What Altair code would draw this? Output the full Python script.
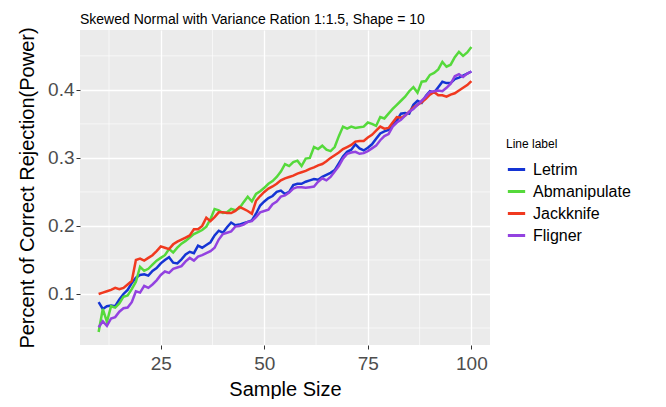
import altair as alt
import pandas as pd

sample_size = list(range(10, 101))

letrim = [0.088, 0.078, 0.082, 0.083, 0.082, 0.092, 0.100, 0.106, 0.116, 0.124,
          0.128, 0.129, 0.127, 0.134, 0.138, 0.145, 0.150, 0.154, 0.146, 0.145,
          0.151, 0.158, 0.162, 0.160, 0.171, 0.168, 0.172, 0.176, 0.186, 0.193,
          0.190, 0.198, 0.205, 0.201, 0.202, 0.204, 0.206, 0.208, 0.218, 0.230,
          0.236, 0.241, 0.244, 0.250, 0.252, 0.247, 0.250, 0.260, 0.262, 0.262,
          0.265, 0.267, 0.269, 0.268, 0.272, 0.275, 0.278, 0.282, 0.292, 0.302,
          0.309, 0.312, 0.320, 0.314, 0.311, 0.315, 0.320, 0.328, 0.336, 0.339,
          0.341, 0.348, 0.355, 0.365, 0.366, 0.365, 0.378, 0.384, 0.381, 0.391,
          0.398, 0.396, 0.404, 0.412, 0.410, 0.410, 0.416, 0.418, 0.421, 0.424,
          0.427]

abmanipulate = [0.044, 0.078, 0.059, 0.082, 0.080, 0.086, 0.096, 0.098, 0.107, 0.118,
                0.140, 0.134, 0.137, 0.143, 0.149, 0.153, 0.157, 0.166, 0.161, 0.168,
                0.174, 0.178, 0.183, 0.188, 0.191, 0.194, 0.199, 0.210, 0.225, 0.223,
                0.219, 0.220, 0.225, 0.223, 0.226, 0.235, 0.243, 0.236, 0.247, 0.251,
                0.256, 0.262, 0.266, 0.272, 0.280, 0.291, 0.288, 0.294, 0.296, 0.288,
                0.299, 0.300, 0.316, 0.313, 0.318, 0.312, 0.310, 0.316, 0.332, 0.346,
                0.343, 0.346, 0.344, 0.345, 0.346, 0.352, 0.350, 0.347, 0.360, 0.358,
                0.365, 0.372, 0.378, 0.384, 0.390, 0.398, 0.404, 0.396, 0.412, 0.413,
                0.422, 0.425, 0.430, 0.441, 0.434, 0.437, 0.448, 0.456, 0.450, 0.455,
                0.463]

jackknife = [0.100, 0.102, 0.104, 0.106, 0.109, 0.107, 0.109, 0.114, 0.119, 0.150,
             0.152, 0.149, 0.153, 0.157, 0.163, 0.170, 0.168, 0.166, 0.173, 0.177,
             0.180, 0.183, 0.186, 0.195, 0.195, 0.200, 0.212, 0.207, 0.213, 0.220,
             0.220, 0.219, 0.219, 0.222, 0.228, 0.225, 0.222, 0.218, 0.237, 0.244,
             0.250, 0.255, 0.258, 0.262, 0.267, 0.270, 0.272, 0.274, 0.277, 0.279,
             0.281, 0.284, 0.286, 0.289, 0.291, 0.295, 0.300, 0.304, 0.308, 0.313,
             0.316, 0.319, 0.324, 0.325, 0.325, 0.330, 0.334, 0.340, 0.346, 0.343,
             0.344, 0.352, 0.360, 0.359, 0.362, 0.368, 0.374, 0.378, 0.382, 0.387,
             0.393, 0.397, 0.392, 0.392, 0.390, 0.393, 0.395, 0.399, 0.403, 0.407,
             0.413]

fligner = [0.051, 0.060, 0.053, 0.064, 0.066, 0.074, 0.079, 0.080, 0.088, 0.104,
           0.102, 0.112, 0.109, 0.114, 0.120, 0.128, 0.133, 0.131, 0.137, 0.139,
           0.141, 0.148, 0.153, 0.149, 0.155, 0.157, 0.160, 0.163, 0.168, 0.180,
           0.188, 0.190, 0.192, 0.199, 0.200, 0.202, 0.206, 0.207, 0.213, 0.220,
           0.222, 0.224, 0.232, 0.236, 0.243, 0.245, 0.249, 0.255, 0.257, 0.257,
           0.256, 0.257, 0.258, 0.265, 0.270, 0.267, 0.272, 0.280, 0.288, 0.299,
           0.306, 0.308, 0.309, 0.306, 0.307, 0.310, 0.314, 0.318, 0.326, 0.332,
           0.335, 0.346, 0.352, 0.356, 0.362, 0.368, 0.372, 0.378, 0.384, 0.390,
           0.397, 0.398, 0.399, 0.398, 0.403, 0.409, 0.420, 0.423, 0.419, 0.424,
           0.427]

series_names = ["Letrim", "Abmanipulate", "Jackknife", "Fligner"]
series_colors = ["#1434D4", "#55D93B", "#F0391F", "#9342E0"]

x_major = [25, 50, 75, 100]
x_minor = [12.5, 37.5, 62.5, 87.5]
y_major = [0.1, 0.2, 0.3, 0.4]
y_minor = [0.05, 0.15, 0.25, 0.35, 0.45]

rows = []
for name, vals in zip(series_names, [letrim, abmanipulate, jackknife, fligner]):
    for n, v in zip(sample_size, vals):
        rows.append({"n": n, "power": v, "label": name})
df = pd.DataFrame(rows)

FONT = "Liberation Sans"
xscale = alt.Scale(domain=[5.5, 104.5], nice=False, zero=False)
yscale = alt.Scale(domain=[0.025, 0.488], nice=False, zero=False)

x_axis = alt.Axis(values=x_major, grid=True, gridColor="white", gridWidth=1.3,
                  labelFontSize=19, labelColor="#4D4D4D", labelFont=FONT,
                  titleFontSize=20, titleFontWeight="normal", titleColor="black",
                  titleFont=FONT, tickColor="#333333", tickSize=4, domain=False,
                  labelPadding=5, titlePadding=6, format="d")
y_axis = alt.Axis(values=y_major, grid=True, gridColor="white", gridWidth=1.3,
                  labelFontSize=19, labelColor="#4D4D4D", labelFont=FONT,
                  titleFontSize=20, titleFontWeight="normal", titleColor="black",
                  titleFont=FONT, tickColor="#333333", tickSize=4, domain=False,
                  labelPadding=2, titlePadding=10, format=".1f")
X_TITLE = "Sample Size"
Y_TITLE = "Percent of Correct Rejection(Power)"

minor_x = alt.Chart(pd.DataFrame({"n": x_minor})).mark_rule(
    color="white", strokeWidth=0.6
).encode(x=alt.X("n:Q", scale=xscale, title=X_TITLE, axis=x_axis))

minor_y = alt.Chart(pd.DataFrame({"power": y_minor})).mark_rule(
    color="white", strokeWidth=0.6
).encode(y=alt.Y("power:Q", scale=yscale, title=Y_TITLE, axis=y_axis))

lines = alt.Chart(df).mark_line(strokeWidth=2.5).encode(
    x=alt.X("n:Q", scale=xscale, title=X_TITLE, axis=x_axis),
    y=alt.Y("power:Q", scale=yscale, title=Y_TITLE, axis=y_axis),
    color=alt.Color("label:N",
                    scale=alt.Scale(domain=series_names, range=series_colors),
                    legend=alt.Legend(title="Line label", orient="none",
                                      legendX=426, legendY=109,
                                      titleFontSize=12, titleFontWeight="normal",
                                      titleColor="black", titleFont=FONT,
                                      labelFontSize=16, labelColor="black", labelFont=FONT,
                                      symbolType="stroke", symbolStrokeWidth=3,
                                      symbolSize=300, rowPadding=3, titlePadding=8,
                                      labelOffset=6)),
    order=alt.Order("n:Q"),
)

chart = alt.layer(minor_x, minor_y, lines).properties(
    width=410, height=315,
    title=alt.TitleParams(text="Skewed Normal with Variance Ration 1:1.5, Shape = 10",
                          anchor="start", frame="group", fontSize=14,
                          fontWeight="normal", font=FONT, color="black", offset=0),
    autosize=alt.AutoSizeParams(type="none"),
    padding={"left": 72, "top": 22, "right": 168, "bottom": 54},
).configure_view(fill="#EBEBEB", strokeWidth=0)

chart.save("out.html", embed_options={"renderer": "svg", "actions": False})
